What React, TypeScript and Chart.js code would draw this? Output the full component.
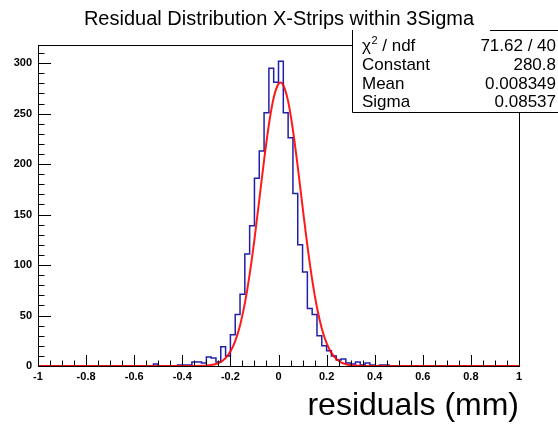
import React, { useEffect, useRef } from "react";
import { Chart, registerables } from "chart.js";

Chart.register(...registerables);

// ---------- data ----------
const TITLE = "Residual Distribution X-Strips within 3Sigma";
const X_AXIS_TITLE = "residuals (mm)";
const X_MIN = -1;
const X_MAX = 1;
const BIN_WIDTH = 0.02;
const Y_MAX = 318;

// histogram counts, 100 bins of width 0.02 from -1 to 1
const COUNTS = [
  0, 0, 0, 0, 0, 0, 0, 0, 0, 0,
  0, 0, 0, 0, 0, 0, 0, 0, 0, 0,
  0, 0, 0, 0, 0, 2, 0, 0, 0, 0,
  1, 1, 1, 4, 4, 3, 9, 8, 4, 19,
  10, 31, 51, 71, 111, 139, 186, 213, 251, 295,
  281, 302, 251, 226, 171, 120, 93, 57, 51, 30,
  20, 15, 10, 6, 7, 3, 2, 4, 1, 3,
  1, 0, 1, 1, 0, 0, 0, 0, 0, 0,
  0, 0, 0, 0, 0, 0, 0, 0, 0, 0,
  0, 0, 0, 0, 0, 0, 0, 0, 0, 0,
];

// fitted gaussian curve
const FIT_X = [
  -1, -0.4, -0.36, -0.32, -0.3, -0.28, -0.26, -0.24, -0.22, -0.2,
  -0.18, -0.16, -0.14, -0.12, -0.1, -0.08, -0.06, -0.04, -0.02, 0,
  0.01, 0.02, 0.04, 0.06, 0.08, 0.1, 0.12, 0.14, 0.16, 0.18,
  0.2, 0.22, 0.24, 0.26, 0.28, 0.3, 0.32, 0.36, 0.4, 1,
];
const FIT_Y = [
  0, 0, 0.03, 0.17, 0.41, 0.94, 2.0, 4.1, 7.9, 14.3,
  24.6, 40.2, 62.0, 90.7, 125.5, 164.4, 203.8, 239.2, 265.7, 279.5,
  280.8, 278.2, 262.2, 233.8, 197.4, 157.8, 119.4, 85.5, 58.0, 37.2,
  22.6, 13.0, 7.1, 3.6, 1.8, 0.8, 0.4, 0.06, 0, 0,
];

const STATS_LABELS = ["χ2 / ndf", "Constant", "Mean", "Sigma"];
const STATS_VALUES = ["71.62 / 40", "280.8", "0.008349", "0.08537"];

const X_TICK_STEP = 0.2;
const X_MINOR_STEP = 0.05;
const Y_TICK_STEP = 50;
const Y_MINOR_STEP = 10;

const FONT = "'Liberation Sans', Arial, Helvetica, sans-serif";

const rootPlugin = {
  id: "rootDecor",
  afterDatasetsDraw(chart: any) {
    const { ctx, chartArea } = chart;
    const xs = chart.scales.x;
    const ys = chart.scales.y;
    const { left, right, top, bottom } = chartArea;
    ctx.save();
    ctx.strokeStyle = "#000";
    ctx.lineWidth = 1;
    // frame
    ctx.strokeRect(Math.round(left) + 0.5, Math.round(top) + 0.5, Math.round(right - left), Math.round(bottom - top));
    // x ticks (inward)
    ctx.beginPath();
    const nx = Math.round((X_MAX - X_MIN) / X_MINOR_STEP);
    for (let i = 0; i <= nx; i++) {
      const v = X_MIN + i * X_MINOR_STEP;
      const px = Math.round(xs.getPixelForValue(v)) + 0.5;
      const major = i % Math.round(X_TICK_STEP / X_MINOR_STEP) === 0;
      const len = major ? 11 : 5.5;
      ctx.moveTo(px, bottom);
      ctx.lineTo(px, bottom - len);
    }
    // y ticks (inward)
    for (let v = 0; v <= Y_MAX; v += Y_MINOR_STEP) {
      const py = Math.round(ys.getPixelForValue(v)) + 0.5;
      const major = v % Y_TICK_STEP === 0;
      const len = major ? 13 : 6.5;
      ctx.moveTo(left, py);
      ctx.lineTo(left + len, py);
    }
    ctx.stroke();
    ctx.restore();
  },
  afterDraw(chart: any) {
    const { ctx } = chart;
    ctx.save();
    // title
    ctx.fillStyle = "#000";
    ctx.font = `20px ${FONT}`;
    ctx.textAlign = "center";
    ctx.textBaseline = "alphabetic";
    ctx.fillText(TITLE, 279, 25);

    // stats box
    const bx = 352, by = 30, bw = 220, bh = 82;
    ctx.fillStyle = "#fff";
    ctx.fillRect(bx, by, bw, bh);
    ctx.strokeStyle = "#000";
    ctx.lineWidth = 1;
    ctx.beginPath();
    ctx.moveTo(bx + 0.5, by);
    ctx.lineTo(bx + 0.5, by + bh + 0.5);
    ctx.lineTo(558, by + bh + 0.5);
    ctx.moveTo(490, by + 0.5);
    ctx.lineTo(558, by + 0.5);
    ctx.stroke();

    const baselines = [51, 70, 88.5, 107];
    ctx.fillStyle = "#000";
    ctx.font = `17px ${FONT}`;
    for (let i = 0; i < STATS_LABELS.length; i++) {
      const yb = baselines[i];
      ctx.textAlign = "left";
      const label = STATS_LABELS[i];
      if (label.startsWith("χ2")) {
        ctx.font = `17px ${FONT}`;
        ctx.fillText("χ", 362, yb);
        const w1 = ctx.measureText("χ").width;
        ctx.font = `11px ${FONT}`;
        ctx.fillText("2", 362 + w1 + 0.5, yb - 7);
        const w2 = ctx.measureText("2").width;
        ctx.font = `17px ${FONT}`;
        ctx.fillText(label.slice(2), 362 + w1 + w2 + 0.5, yb);
      } else {
        ctx.fillText(label, 362, yb);
      }
      ctx.textAlign = "right";
      ctx.fillText(STATS_VALUES[i], 556, yb);
    }
    ctx.restore();
  },
};

export default function App() {
  const ref = useRef<HTMLCanvasElement | null>(null);

  useEffect(() => {
    document.body.style.margin = "0";
    const canvas = ref.current;
    if (!canvas) return;

    const histPts = COUNTS.map((c, i) => ({ x: X_MIN + i * BIN_WIDTH, y: c }));
    histPts.push({ x: X_MAX, y: COUNTS[COUNTS.length - 1] });
    const fitPts = FIT_X.map((x, i) => ({ x, y: FIT_Y[i] }));

    const chart = new Chart(canvas, {
      type: "line",
      data: {
        datasets: [
          {
            label: "fit",
            data: fitPts,
            borderColor: "rgba(255,0,0,0.9)",
            borderWidth: 2,
            pointRadius: 0,
            cubicInterpolationMode: "monotone",
            fill: false,
            order: 0,
            clip: 3,
          },
          {
            label: "hist",
            data: histPts,
            borderColor: "#2020a8",
            borderWidth: 1.5,
            pointRadius: 0,
            stepped: "after",
            fill: false,
            order: 1,
            clip: 3,
          },
        ] as any,
      },
      options: {
        responsive: false,
        animation: false,
        events: [],
        layout: { padding: { left: 0, right: 39, top: 45, bottom: 0 } },
        plugins: {
          legend: { display: false },
          tooltip: { enabled: false },
          title: { display: false },
        },
        scales: {
          x: {
            type: "linear",
            min: X_MIN,
            max: X_MAX,
            ticks: {
              stepSize: X_TICK_STEP,
              autoSkip: false,
              maxRotation: 0,
              includeBounds: false,
              padding: 4,
              color: "#000",
              font: { family: FONT, size: 11, weight: "bold" },
              callback: (v: any) => String(Number(Number(v).toFixed(1))),
            },
            grid: { display: false, drawTicks: false },
            border: { display: false },
            title: {
              display: true,
              text: X_AXIS_TITLE,
              align: "end",
              color: "#000",
              font: { family: FONT, size: 32 },
              padding: { top: 0, bottom: 0 },
            },
            afterFit: (s: any) => {
              s.height = 59;
            },
          },
          y: {
            type: "linear",
            min: 0,
            max: Y_MAX,
            ticks: {
              stepSize: Y_TICK_STEP,
              includeBounds: false,
              padding: 6,
              color: "#000",
              font: { family: FONT, size: 11, weight: "bold" },
            },
            grid: { display: false, drawTicks: false },
            border: { display: false },
            afterFit: (s: any) => {
              s.width = 38;
            },
          },
        },
      } as any,
      plugins: [rootPlugin],
    });

    return () => chart.destroy();
  }, []);

  return (
    <canvas
      ref={ref}
      width={558}
      height={425}
      style={{ display: "block", width: 558, height: 425 }}
    />
  );
}
